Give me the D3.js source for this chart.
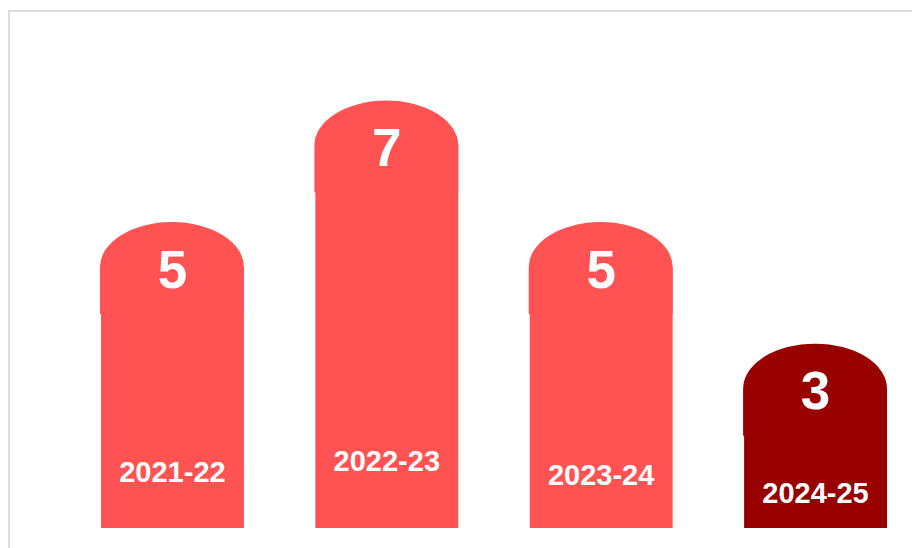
<!DOCTYPE html>
<html>
<head>
<meta charset="utf-8">
<script src="https://cdn.jsdelivr.net/npm/d3@7"></script>
<style>
  body { margin: 0; background: #fff; }
  svg { display: block; }
</style>
</head>
<body>
<svg id="chart" width="912" height="548"></svg>
<script>
const seasons = ['2021-22', '2022-23', '2023-24', '2024-25'];
const counts = [5, 7, 5, 3];
const barColors = ['#ff5252', '#ff5252', '#ff5252', '#990000'];
// the season labels sit at slightly different heights in the original
const labelDrop = [472, 461, 475, 493];

const svg = d3.select('#chart');
const width = Number.parseInt(svg.attr('width'));
const height = Number.parseInt(svg.attr('height'));

// card frame (runs off the right and bottom edges)
svg.append('rect')
  .attr('x', 9)
  .attr('y', 11)
  .attr('width', width + 20)
  .attr('height', height + 20)
  .attr('fill', 'none')
  .attr('stroke', '#dddddd')
  .attr('stroke-width', 2);

const x = d3.scaleBand()
  .domain(seasons)
  .range([101, 887])
  .paddingInner(1 / 3)
  .paddingOuter(0);

const y = d3.scaleLinear()
  .domain([0, 7])
  .range([526, 100.5]);

const baseline = 528;
const capRy = 45;
const capDepth = 92;

const data = seasons.map((season, i) => ({
  season,
  value: counts[i],
  fill: barColors[i],
  labelY: labelDrop[i],
}));

const bars = svg.append('g')
  .selectAll('g')
  .data(data)
  .enter()
  .append('g');

// body of the bar
bars.append('rect')
  .attr('x', d => x(d.season))
  .attr('y', d => y(d.value) + capRy)
  .attr('width', x.bandwidth())
  .attr('height', d => baseline - y(d.value) - capRy)
  .attr('fill', d => d.fill);

// rounded dome on top
bars.append('path')
  .attr('fill', d => d.fill)
  .attr('d', d => {
    const x0 = x(d.season) - 1;
    const x1 = x(d.season) + x.bandwidth();
    const top = y(d.value);
    const rx = (x1 - x0) / 2;
    return `M${x0},${top + capRy} A${rx},${capRy} 0 0 1 ${x1},${top + capRy}`
      + ` L${x1},${top + capDepth} L${x0},${top + capDepth} Z`;
  });

bars.append('text')
  .attr('x', d => x(d.season) + x.bandwidth() / 2)
  .attr('y', d => y(d.value) + 47)
  .attr('text-anchor', 'middle')
  .attr('dominant-baseline', 'central')
  .attr('fill', '#fff')
  .style('font-family', 'Liberation Sans, Arial, sans-serif')
  .style('font-weight', 'bold')
  .style('font-size', '53px')
  .text(d => d.value);

bars.append('text')
  .attr('x', d => x(d.season) + x.bandwidth() / 2)
  .attr('y', d => d.labelY)
  .attr('text-anchor', 'middle')
  .attr('dominant-baseline', 'central')
  .attr('fill', '#fff')
  .style('font-family', 'Liberation Sans, Arial, sans-serif')
  .style('font-weight', 'bold')
  .style('font-size', '29px')
  .text(d => d.season);
</script>
</body>
</html>
